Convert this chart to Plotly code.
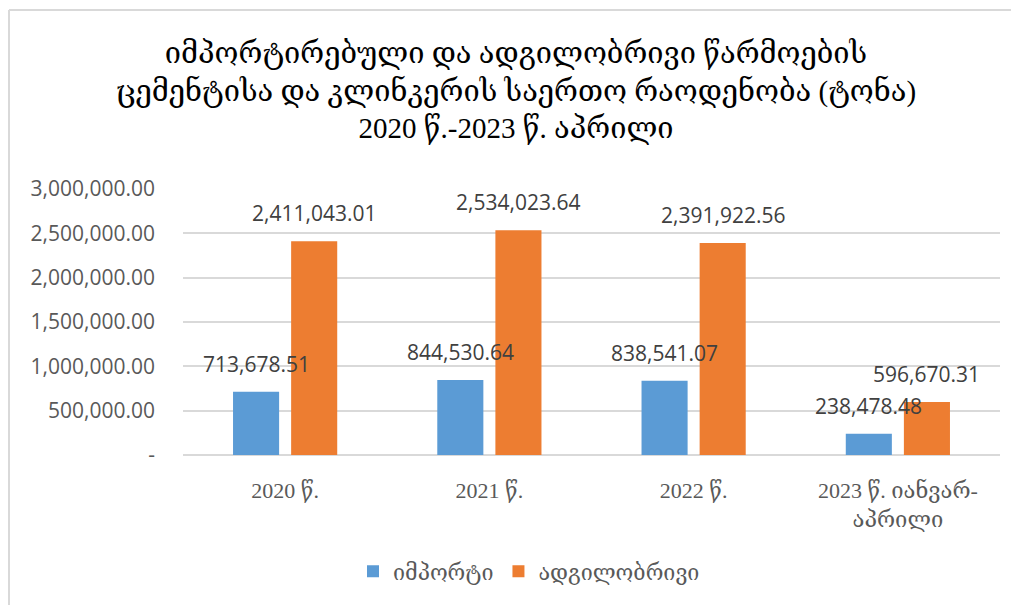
import plotly.graph_objects as go

categories = ["2020 წ.", "2021 წ.", "2022 წ.", "2023 წ. იანვარ-<br>აპრილი"]
import_vals = [713678.51, 844530.64, 838541.07, 238478.48]
local_vals = [2411043.01, 2534023.64, 2391922.56, 596670.31]
series_names = ["იმპორტი", "ადგილობრივი"]
series_colors = ["#5B9BD5", "#ED7D31"]
tick_vals = [0, 500000, 1000000, 1500000, 2000000, 2500000, 3000000]
tick_text = ["-", "500,000.00", "1,000,000.00", "1,500,000.00", "2,000,000.00", "2,500,000.00", "3,000,000.00"]
title_lines = ["იმპორტირებული და ადგილობრივი წარმოების",
               "ცემენტისა და კლინკერის საერთო რაოდენობა (ტონა)",
               "2020 წ.-2023 წ. აპრილი"]

SERIF = "Liberation Serif, DejaVu Serif, serif"

def fmt(v):
    return f"{v:,.2f}"

# page body has an 8px margin: figure is sized/offset to compensate
W, H = 1011, 597
L, R, T, B = 175, 19, 181, 150
plot_w = W - L - R
plot_h = H - T - B

fig = go.Figure()
for name, vals, col in zip(series_names, [import_vals, local_vals], series_colors):
    fig.add_trace(go.Bar(x=categories, y=vals, name=name,
                         marker=dict(color=col, line=dict(width=0)),
                         hoverinfo="x+y"))

# data labels above each bar
slot = plot_w / len(categories) * (1 - 0.431) / 2
annotations = []
for k, vals in enumerate([import_vals, local_vals]):
    shift = (k - 0.5) * slot
    for c, v in zip(categories, vals):
        annotations.append(dict(x=c, y=v, xref="x", yref="y", text=fmt(v),
                                showarrow=False, xanchor="center", yanchor="bottom",
                                xshift=shift, yshift=12,
                                font=dict(family="Open Sans", size=21, color="#404040")))

# chart-area frame (top and left edges visible)
px_x = lambda p: (p - L) / plot_w
px_y = lambda p: (T + plot_h - p) / plot_h
frame = [
    dict(type="line", xref="paper", yref="paper",
         x0=px_x(1), x1=px_x(W), y0=px_y(2), y1=px_y(2),
         line=dict(color="#D9D9D9", width=2), layer="above"),
    dict(type="line", xref="paper", yref="paper",
         x0=px_x(1), x1=px_x(1), y0=px_y(2), y1=px_y(H),
         line=dict(color="#D9D9D9", width=2), layer="above"),
]

fig.update_layout(
    width=W, height=H,
    margin=dict(l=L, r=R, t=T, b=B, autoexpand=False),
    paper_bgcolor="white", plot_bgcolor="white",
    barmode="group", bargap=0.431, bargroupgap=0.207,
    title=dict(text="<br>".join(title_lines), x=508 / W, xanchor="center",
               xref="container",
               y=0.908, yanchor="top",
               font=dict(family=SERIF, size=29, color="#000000")),
    xaxis=dict(showgrid=False, showline=False, ticks="", ticklabelstandoff=20,
               tickfont=dict(family=SERIF, size=22, color="#595959")),
    yaxis=dict(range=[0, 3000000], tickvals=tick_vals, ticktext=tick_text,
               showgrid=True, gridcolor="#D9D9D9", gridwidth=1.5,
               zeroline=True, zerolinecolor="#D9D9D9", zerolinewidth=1.5,
               showline=False, ticklabelstandoff=27,
               tickfont=dict(family="Open Sans", size=21, color="#595959")),
    legend=dict(orientation="h", xref="container", x=521 / W, xanchor="center",
                y=-0.36, yanchor="top",
                font=dict(family=SERIF, size=21.5, color="#595959"),
                itemwidth=30, traceorder="normal"),
    showlegend=True,
    annotations=annotations,
    shapes=frame,
)

fig.write_html("out.html")
